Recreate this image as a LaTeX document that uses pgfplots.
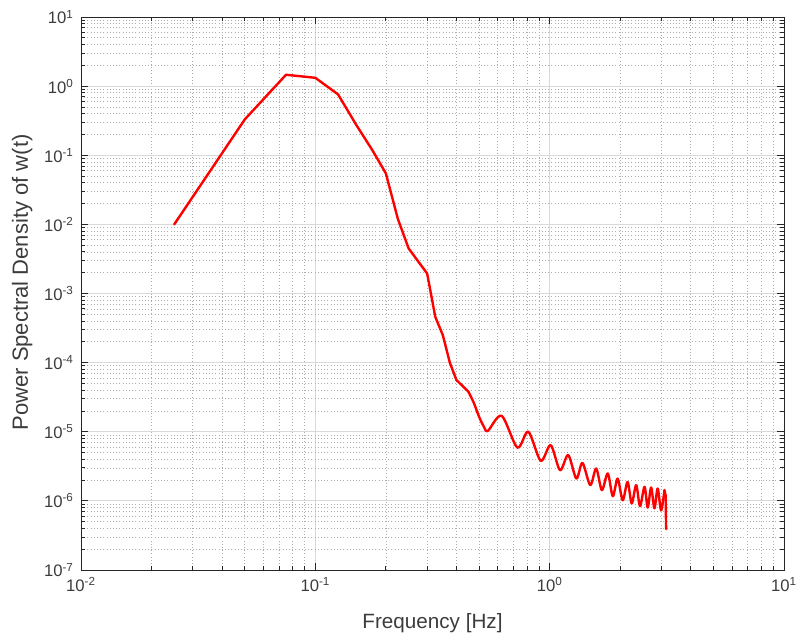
\documentclass[border=0pt]{standalone}
\usepackage{fontspec}
\setmainfont{Liberation Sans}
\usepackage{pgfplots}
\pgfplotsset{compat=1.18}
\definecolor{axgray}{RGB}{38,38,38}
\begin{document}
\begin{tikzpicture}
\begin{loglogaxis}[
  scale only axis,
  width=527.25pt, height=414.75pt,
  xmin=1e-2, xmax=1e1, ymin=1e-7, ymax=1e1,
  xtick={0.01,0.1,1,10},
  xticklabels={10\textsuperscript{-2},10\textsuperscript{-1},10\textsuperscript{0},10\textsuperscript{1}},
  ytick={1e-7,1e-6,1e-5,1e-4,1e-3,1e-2,1e-1,1,10},
  yticklabels={10\textsuperscript{-7},10\textsuperscript{-6},10\textsuperscript{-5},10\textsuperscript{-4},10\textsuperscript{-3},10\textsuperscript{-2},10\textsuperscript{-1},10\textsuperscript{0},10\textsuperscript{1}},
  minor xtick={0.02,0.03,0.04,0.05,0.06,0.07,0.08,0.09,0.2,0.3,0.4,0.5,0.6,0.7,0.8,0.9,2,3,4,5,6,7,8,9},
  minor ytick={2e-7,3e-7,4e-7,5e-7,6e-7,7e-7,8e-7,9e-7,
               2e-6,3e-6,4e-6,5e-6,6e-6,7e-6,8e-6,9e-6,
               2e-5,3e-5,4e-5,5e-5,6e-5,7e-5,8e-5,9e-5,
               2e-4,3e-4,4e-4,5e-4,6e-4,7e-4,8e-4,9e-4,
               2e-3,3e-3,4e-3,5e-3,6e-3,7e-3,8e-3,9e-3,
               2e-2,3e-2,4e-2,5e-2,6e-2,7e-2,8e-2,9e-2,
               2e-1,3e-1,4e-1,5e-1,6e-1,7e-1,8e-1,9e-1,
               2,3,4,5,6,7,8,9},
  grid=both,
  major grid style={color=black!15, line width=0.6pt},
  minor grid style={color=black!32, dotted, line width=0.5pt},
  axis line style={axgray, line width=0.7pt},
  tick style={axgray, line width=0.6pt},
  major tick length=5pt, minor tick length=3pt,
  tick align=inside,
  ticklabel style={font=\fontsize{12.5}{14}\selectfont, text=axgray!90},
  yticklabel style={xshift=-2pt},
  xticklabel style={yshift=-2pt},
  xlabel={Frequency [Hz]},
  ylabel={Power Spectral Density of w(t)},
  label style={text=axgray!90},
  xlabel style={font=\fontsize{15.5}{18}\selectfont, at={(axis description cs:0.5,-0.1049)}, anchor=base},
  ylabel style={font=\fontsize{16.5}{19}\selectfont, at={(axis description cs:-0.0754,0.52)}, anchor=base},
]
\addplot[red, line width=1.8pt, line join=round, line cap=round] coordinates {
(0.025,0.01) (0.05,0.33) (0.075,1.46) (0.1,1.32) (0.125,0.76) (0.15,0.27)
(0.175,0.119) (0.2,0.0547) (0.225,0.012) (0.25,0.0045) (0.275,0.0029)
(0.3,0.00195) (0.325,4.6e-4) (0.35,2.5e-4) (0.375,1.0e-4) (0.4,5.6e-5)
(0.425,4.6e-5) (0.45,3.8e-5)
};
\addplot[red, line width=1.8pt, line join=round, line cap=round, smooth] coordinates {
(0.45,3.8e-5) (0.475,2.6e-5) (0.5,1.64e-5) (0.525,1.17e-5)
(0.545,1.03e-5) (0.624,1.7e-5) (0.728,5.9e-6) (0.811,1.0e-5)
(0.916,3.8e-6) (1.01,6.4e-6) (1.107,2.78e-6) (1.20,4.6e-6)
(1.30,2.1e-6) (1.38,3.55e-6) (1.49,1.69e-6) (1.58,2.94e-6)
(1.67,1.43e-6) (1.77,2.49e-6) (1.86,1.17e-6) (1.95,2.1e-6)
(2.05,1.02e-6) (2.15,1.88e-6) (2.24,9.2e-7) (2.34,1.69e-6)
(2.43,8.4e-7) (2.54,1.6e-6) (2.62,8.0e-7) (2.71,1.56e-6)
(2.80,7.8e-7) (2.89,1.51e-6) (2.99,7.3e-7) (3.09,1.43e-6)
};
\addplot[red, line width=1.8pt, line join=round, line cap=round] coordinates {
(3.09,1.43e-6) (3.125,1.2e-6) (3.14,3.9e-7)
};
\end{loglogaxis}
\pgfresetboundingbox
\path ([xshift=-60.75pt,yshift=-48.75pt]current axis.south west) rectangle ([xshift=13.5pt,yshift=12.75pt]current axis.north east);
\end{tikzpicture}
\end{document}
